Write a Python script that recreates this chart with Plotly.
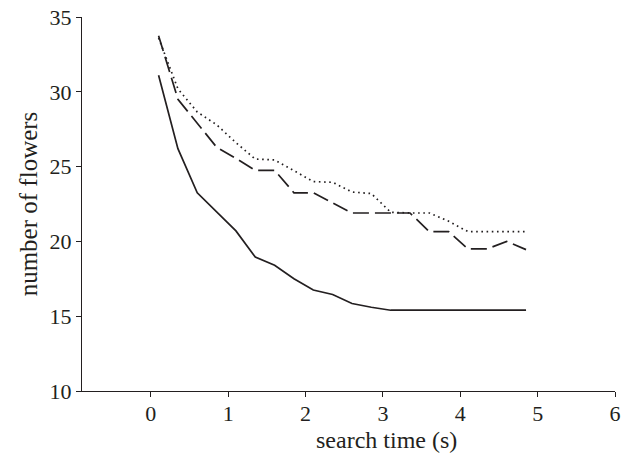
import plotly.graph_objects as go

time_s = [0.1, 0.35, 0.6, 0.85, 1.1, 1.35, 1.6, 1.85, 2.1, 2.35, 2.6, 2.85,
          3.1, 3.35, 3.6, 3.85, 4.1, 4.35, 4.6, 4.85]
solid_vals = [31.1, 26.2, 23.25, 21.95, 20.7, 18.95, 18.4, 17.5, 16.75, 16.45,
              15.85, 15.6, 15.4, 15.4, 15.4, 15.4, 15.4, 15.4, 15.4, 15.4]
dashed_vals = [33.75, 29.5, 27.9, 26.3, 25.55, 24.75, 24.75, 23.25, 23.25, 22.6,
               21.9, 21.9, 21.9, 21.9, 20.65, 20.65, 19.5, 19.5, 20.0, 19.45]
dotted_vals = [33.6, 30.2, 28.65, 27.8, 26.6, 25.5, 25.45, 24.75, 24.0, 23.95,
               23.3, 23.2, 21.95, 21.9, 21.9, 21.35, 20.65, 20.65, 20.65, 20.65]

x_ticks = [0, 1, 2, 3, 4, 5, 6]
y_ticks = [10, 15, 20, 25, 30, 35]
x_title = "search time (s)"
y_title = "number of flowers"

ink = "#231f20"
fig = go.Figure()
fig.add_trace(go.Scatter(x=time_s, y=dotted_vals, mode="lines",
                         line=dict(color=ink, width=1.7, dash="1.6px,3.6px")))
fig.add_trace(go.Scatter(x=time_s, y=dashed_vals, mode="lines",
                         line=dict(color=ink, width=1.7, dash="16px,6px")))
fig.add_trace(go.Scatter(x=time_s, y=solid_vals, mode="lines",
                         line=dict(color=ink, width=1.7)))

family = "Liberation Serif, Times New Roman, serif"
tick_font = dict(family=family, size=22, color=ink)
x_title_font = dict(family=family, size=24, color=ink)
y_title_font = dict(family=family, size=25, color=ink)
fig.update_layout(
    width=632, height=455,
    margin=dict(l=82, r=17, t=17, b=64),
    paper_bgcolor="white", plot_bgcolor="white",
    showlegend=False,
    font=tick_font,
)
fig.update_xaxes(range=[-0.89, 6], tickvals=x_ticks, ticks="outside", ticklen=5,
                 tickwidth=1.2, tickcolor=ink, showline=True, linecolor=ink,
                 linewidth=1.2, showgrid=False, zeroline=False, automargin=False,
                 ticklabeloverflow="allow", ticklabelstandoff=-3,
                 tickfont=tick_font)
fig.update_yaxes(range=[10, 35], tickvals=y_ticks, ticks="outside", ticklen=5,
                 tickwidth=1.2, tickcolor=ink, showline=True, linecolor=ink,
                 linewidth=1.2, showgrid=False, zeroline=False, automargin=False,
                 ticklabeloverflow="allow",
                 title=dict(text=y_title, standoff=4, font=y_title_font),
                 tickfont=tick_font)
fig.add_annotation(text=x_title, x=3.05, xref="x", y=-0.131, yref="paper",
                   xanchor="center", yanchor="middle", showarrow=False,
                   font=x_title_font)

fig.write_html("out.html", config={"displayModeBar": False},
               post_script="document.body.style.margin='0px';")
